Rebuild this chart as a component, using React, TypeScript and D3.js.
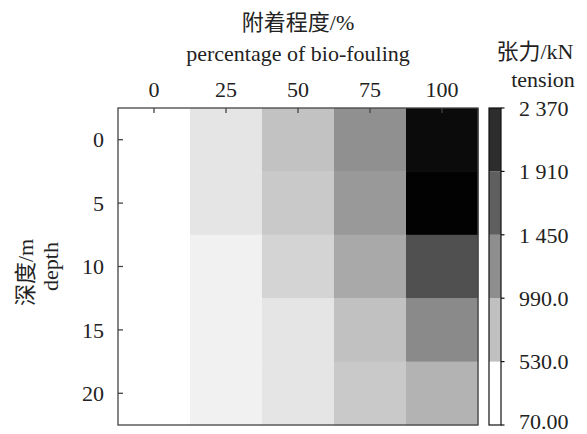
import React from "react";
import * as d3 from "d3";

// Percentage of bio-fouling (columns) and water depth in metres (rows)
const biofouling = [0, 25, 50, 75, 100];
const depths = [0, 5, 10, 15, 20];

// Mooring tension (kN) for each depth, one value per bio-fouling level
const tensionDepth0 = [70, 305, 620, 1071, 2271];
const tensionDepth5 = [70, 305, 557, 990, 2352];
const tensionDepth10 = [70, 196, 458, 846, 1648];
const tensionDepth15 = [70, 196, 305, 629, 1125];
const tensionDepth20 = [70, 196, 305, 557, 756];
const tensionRows = [tensionDepth0, tensionDepth5, tensionDepth10, tensionDepth15, tensionDepth20];

// Colour bar levels and labels
const barLevels = [70, 530, 990, 1450, 1910, 2370];
const barLabels = ["70.00", "530.0", "990.0", "1 450", "1 910", "2 370"];
const barColors = ["#ffffff", "#c0c0c0", "#8e8e8e", "#5f5f5f", "#2d2d2d"];

const W = 587;
const H = 434;
const plot = { left: 118, right: 478, top: 108, bottom: 425 };
const bar = { x: 489, w: 12 };
const FONT = "'Liberation Serif', 'Times New Roman', 'Noto Sans CJK SC', serif";
const FS = 22;

export default function App() {
  const x = d3.scaleBand<number>().domain(biofouling).range([plot.left, plot.right]).padding(0);
  const y = d3.scaleBand<number>().domain(depths).range([plot.top, plot.bottom]).padding(0);
  const gray = d3.scaleLinear<string>().domain([70, 2370]).range(["#ffffff", "#000000"]).clamp(true);
  const yBar = d3.scaleLinear().domain([70, 2370]).range([plot.bottom, plot.top]);

  const cells: { d: number; b: number; v: number }[] = [];
  depths.forEach((d, i) => biofouling.forEach((b, j) => cells.push({ d, b, v: tensionRows[i][j] })));

  const cx = (plot.left + plot.right) / 2;
  const cy = (plot.top + plot.bottom) / 2;

  return (
    <svg width={W} height={H} style={{ position: "fixed", left: 0, top: 0, background: "#fff" }} fontFamily={FONT}>
      {/* heatmap cells */}
      {cells.map((c, k) => (
        <rect
          key={k}
          x={x(c.b)}
          y={y(c.d)}
          width={x.bandwidth() + 0.5}
          height={y.bandwidth() + 0.5}
          fill={gray(c.v)}
        />
      ))}
      {/* frame */}
      <rect
        x={plot.left}
        y={plot.top}
        width={plot.right - plot.left}
        height={plot.bottom - plot.top}
        fill="none"
        stroke="#444"
        strokeWidth={1.3}
      />
      {/* top axis: inward ticks and labels */}
      {biofouling.map((b) => {
        const px = (x(b) as number) + x.bandwidth() / 2;
        return (
          <g key={b}>
            <line x1={px} x2={px} y1={plot.top} y2={plot.top + 5} stroke="#444" strokeWidth={1.3} />
            <text x={px} y={97} textAnchor="middle" fontSize={FS} fill="#222">
              {b}
            </text>
          </g>
        );
      })}
      {/* left axis */}
      {depths.map((d) => {
        const py = (y(d) as number) + y.bandwidth() / 2;
        return (
          <g key={d}>
            <line x1={plot.left} x2={plot.left + 5} y1={py} y2={py} stroke="#444" strokeWidth={1.3} />
            <text x={104} y={py} dy="0.35em" textAnchor="end" fontSize={FS} fill="#222">
              {d}
            </text>
          </g>
        );
      })}
      {/* axis titles */}
      <text x={cx} y={30} textAnchor="middle" fontSize={FS} fill="#222">
        附着程度/%
      </text>
      <text x={cx} y={61} textAnchor="middle" fontSize={FS} fill="#222">
        percentage of bio-fouling
      </text>
      <text transform={`translate(33,${cy + 6}) rotate(-90)`} textAnchor="middle" fontSize={FS} fill="#222">
        深度/m
      </text>
      <text transform={`translate(58,${cy}) rotate(-90)`} textAnchor="middle" fontSize={FS} fill="#222">
        depth
      </text>
      {/* colour bar */}
      {barColors.map((c, i) => (
        <rect
          key={i}
          x={bar.x}
          y={yBar(barLevels[i + 1])}
          width={bar.w}
          height={yBar(barLevels[i]) - yBar(barLevels[i + 1])}
          fill={c}
        />
      ))}
      <rect
        x={bar.x}
        y={plot.top}
        width={bar.w}
        height={plot.bottom - plot.top}
        fill="none"
        stroke="#111"
        strokeWidth={1.2}
      />
      {barLevels.map((v, i) => (
        <g key={v}>
          <line
            x1={bar.x + bar.w}
            x2={bar.x + bar.w + 3.5}
            y1={yBar(v)}
            y2={yBar(v)}
            stroke="#111"
            strokeWidth={1.2}
          />
          <text x={519} y={yBar(v)} dy={i === 0 ? "0.18em" : "0.35em"} fontSize={FS} fill="#222">
            {barLabels[i]}
          </text>
        </g>
      ))}
      <text x={535} y={59} textAnchor="middle" fontSize={FS} fill="#222">
        张力/kN
      </text>
      <text x={543} y={87} textAnchor="middle" fontSize={FS} fill="#222">
        tension
      </text>
    </svg>
  );
}
